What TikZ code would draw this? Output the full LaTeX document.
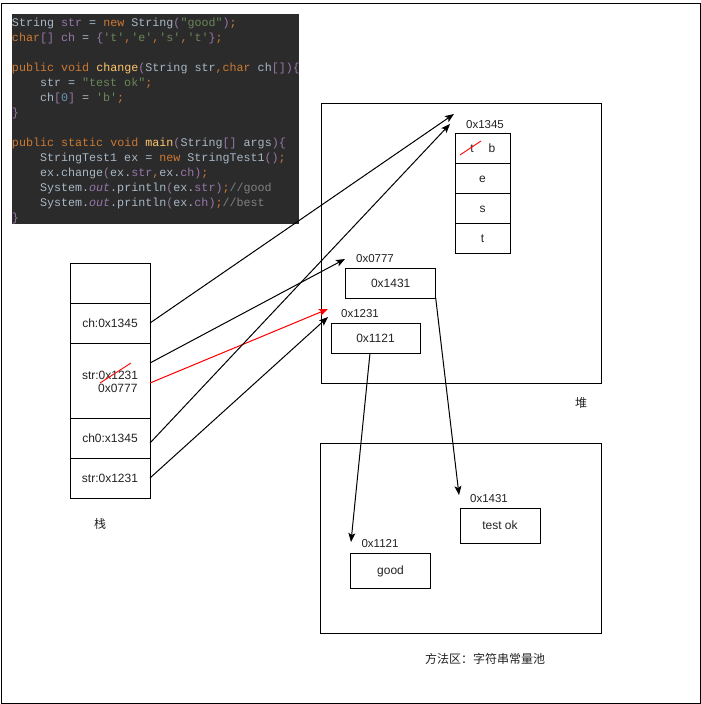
\documentclass[tikz,border=0pt]{standalone}
\usepackage{fontspec}
\setmainfont{Liberation Sans}
\setmonofont{Liberation Mono}
\newfontfamily\cjk{Noto Sans CJK SC}
\usetikzlibrary{arrows.meta}
\definecolor{codebg}{HTML}{2B2B2B}
\definecolor{cdefc}{HTML}{A9B7C6}
\definecolor{ckwc}{HTML}{CC7832}
\definecolor{cstrc}{HTML}{6A8759}
\definecolor{cmethc}{HTML}{FFC66D}
\definecolor{cfldc}{HTML}{9876AA}
\definecolor{cnumc}{HTML}{6897BB}
\definecolor{ccomc}{HTML}{808080}
\definecolor{lblc}{HTML}{222222}
\newcommand\cdDef[1]{\textcolor{cdefc}{#1}}
\newcommand\cdKw[1]{\textcolor{ckwc}{#1}}
\newcommand\cdStr[1]{\textcolor{cstrc}{#1}}
\newcommand\cdMeth[1]{\textcolor{cmethc}{#1}}
\newcommand\cdFld[1]{\textcolor{cfldc}{#1}}
\newcommand\cdNum[1]{\textcolor{cnumc}{#1}}
\newcommand\cdCom[1]{\textcolor{ccomc}{#1}}
\newcommand\cdBr[1]{\textcolor{cfldc}{#1}}
\newcommand\cdOut[1]{\textcolor{cfldc}{\itshape #1}}
\tikzset{
  codeline/.style={anchor=base west, inner sep=0pt, outer sep=0pt, font=\ttfamily\fontsize{11.7}{15}\selectfont, text=cdefc},
  cell/.style={draw=black, line width=1pt, inner sep=0pt, outer sep=0pt, font=\fontsize{12}{14}\selectfont, text=lblc, text height=8.6pt, text depth=0pt},
  lbl/.style={inner sep=0pt, outer sep=0pt, font=\fontsize{11.5}{13}\selectfont, text=lblc, text height=8.3pt, text depth=0pt},
  cjklbl/.style={inner sep=0pt, outer sep=0pt, font=\cjk\fontsize{12}{14}\selectfont, text=lblc},
  arr/.style={line width=1pt, -{Stealth[length=9pt,width=7pt,inset=2pt]}},
  strike/.style={draw=red, line width=0.9pt},
  region/.style={draw=black, line width=1pt}
}
\begin{document}
\begin{tikzpicture}[x=1pt,y=-1pt]
\useasboundingbox (0,0) rectangle (701,704);
\draw[line width=1pt] (1,3) rectangle (700,703);

% code block
\fill[codebg] (12,14) rectangle (299,224);
\begin{scope}
\clip (12,14) rectangle (299,224);
\node[codeline] (c1) at (12,26) {String \cdFld{str} = \cdKw{new} String\cdBr{(}\cdStr{"good"}\cdBr{)}\cdKw{;}};
\node[codeline] (c2) at (12,41) {\cdKw{char}\cdBr{[]} \cdFld{ch} = \cdBr{\{}\cdStr{'t'}\cdKw{,}\cdStr{'e'}\cdKw{,}\cdStr{'s'}\cdKw{,}\cdStr{'t'}\cdBr{\}}\cdKw{;}};
\node[codeline] (c4) at (12,71) {\cdKw{public void} \cdMeth{change}\cdBr{(}String str\cdKw{,}\cdKw{char} ch\cdBr{[])\{}};
\node[codeline] (c5) at (40,86) {str = \cdStr{"test ok"}\cdKw{;}};
\node[codeline] (c6) at (40,101) {ch\cdBr{[}\cdNum{0}\cdBr{]} = \cdStr{'b'}\cdKw{;}};
\node[codeline] (c7) at (12,116) {\cdBr{\}}};
\node[codeline] (c9) at (12,146) {\cdKw{public static void} \cdMeth{main}\cdBr{(}String\cdBr{[]} args\cdBr{)\{}};
\node[codeline] (c10) at (40,161) {StringTest1 ex = \cdKw{new} StringTest1\cdBr{()}\cdKw{;}};
\node[codeline] (c11) at (40,176) {ex.change\cdBr{(}ex.\cdFld{str}\cdKw{,}ex.\cdFld{ch}\cdBr{)}\cdKw{;}};
\node[codeline] (c12) at (40,191) {System.\cdOut{out}.println\cdBr{(}ex.\cdFld{str}\cdBr{)}\cdKw{;}\cdCom{//good}};
\node[codeline] (c13) at (40,206) {System.\cdOut{out}.println\cdBr{(}ex.\cdFld{ch}\cdBr{)}\cdKw{;}\cdCom{//best}};
\node[codeline] (c14) at (12,221) {\cdBr{\}}};
\end{scope}

% regions
\draw[region] (321,103) rectangle (601,383);
\draw[region] (320,443) rectangle (601,633);
\node[cjklbl] (heaplbl) at (581,403) {堆};
\node[cjklbl] (methlbl) at (485,659) {方法区：字符串常量池};
\node[cjklbl] (stacklbl) at (100,524) {栈};

% stack
\node[cell, minimum width=80pt, minimum height=40pt] (s0) at (110,283) {};
\node[cell, minimum width=80pt, minimum height=40pt] (s1) at (110,323) {ch:0x1345};
\node[cell, minimum width=80pt, minimum height=75pt] (s2) at (110,380.5) {};
\node[cell, minimum width=80pt, minimum height=40pt] (s3) at (110,438) {ch0:x1345};
\node[cell, minimum width=80pt, minimum height=40pt] (s4) at (110,478) {str:0x1231};
\node[lbl, font=\fontsize{12}{14}\selectfont, anchor=west] (s2a) at (82,375) {str:0x1231};
\node[lbl, font=\fontsize{12}{14}\selectfont, anchor=east] (s2b) at (137.5,388) {0x0777};
\draw[strike] (100,383) -- (131,363);

% char array
\node[lbl] (arrlbl) at (485,124) {0x1345};
\node[cell, minimum width=55pt, minimum height=30pt] (a0) at (482.5,148) {};
\node[cell, minimum width=55pt, minimum height=30pt] (a1) at (482.5,178) {e};
\node[cell, minimum width=55pt, minimum height=30pt] (a2) at (482.5,208) {s};
\node[cell, minimum width=55pt, minimum height=30pt] (a3) at (482.5,238) {t};
\node[lbl, font=\fontsize{12}{14}\selectfont] (a0t) at (472,148) {t};
\node[lbl, font=\fontsize{12}{14}\selectfont] (a0b) at (492,148) {b};
\draw[strike] (460,155) -- (481,141);

% heap objects
\node[lbl] (Albl) at (375,258) {0x0777};
\node[cell, minimum width=90pt, minimum height=30pt] (A) at (390.7,283) {0x1431};
\node[lbl] (Blbl) at (360,313) {0x1231};
\node[cell, minimum width=89pt, minimum height=30pt] (B) at (375.5,338) {0x1121};

% constant pool
\node[lbl] (Tlbl) at (489,498) {0x1431};
\node[cell, minimum width=80pt, minimum height=35pt] (T) at (500,525.5) {test ok};
\node[lbl] (Glbl) at (380,543) {0x1121};
\node[cell, minimum width=80pt, minimum height=35pt] (G) at (390.5,570.5) {good};

% connector endpoints
\coordinate (pS1) at (150,363);
\coordinate (pS2) at (150,383);
\coordinate (pC0) at (150,443);
\coordinate (pB) at (370,353);
\coordinate (t1) at (454,114);
\coordinate (t2) at (345,259);
\coordinate (t3) at (328,309);
\coordinate (t4) at (450,124);
\coordinate (t5) at (328,317);
\coordinate (t6) at (351,542);
\coordinate (t7) at (459,495);

\draw[arr] (s1.east) -- (t1);
\draw[arr] (pS1) -- (t2);
\draw[arr, draw=red, fill=red] (pS2) -- (t3);
\draw[arr] (pC0) -- (t4);
\draw[arr] (s4.east) -- (t5);
\draw[arr] (pB) -- (t6);
\draw[arr] (A.south east) -- (t7);
\end{tikzpicture}
\end{document}
